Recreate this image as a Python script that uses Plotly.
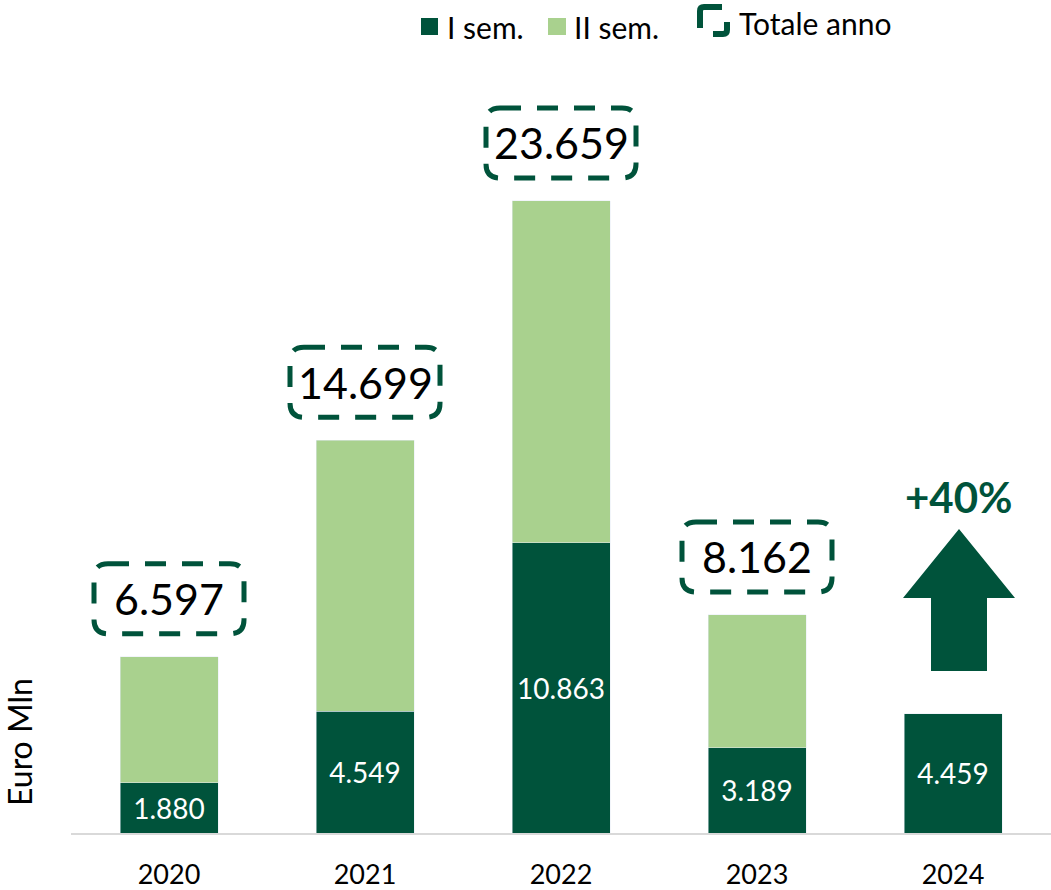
import plotly.graph_objects as go

# Data (Euro Mln)
years = ['2020', '2021', '2022', '2023', '2024']
sem1 = [1880, 4549, 10863, 3189, 4459]
sem2 = [4717, 10150, 12796, 4973, None]
totals = [6597, 14699, 23659, 8162, None]
growth_label = '+40%'

dark = '#00533B'
light = '#A9D18E'
font_family = 'Lato'

# plot area in pixels (for legend placement)
W, H = 1051, 890
ML, MR, MT, MB = 71, 0, 60, 57
PW, PH = W - ML - MR, H - MT - MB


def px(x):
    return (x - ML) / PW


def py(y):
    return (H - MB - y) / PH


def paper_path(points):
    # points: list of (cmd, [x, y, ...]) in pixel coords
    parts = []
    for cmd, coords in points:
        conv = []
        for k in range(0, len(coords), 2):
            conv.append(f'{px(coords[k]):.5f},{py(coords[k + 1]):.5f}')
        parts.append(cmd + ' '.join(conv))
    return ' '.join(parts)


fig = go.Figure()

fig.add_trace(go.Bar(
    x=years, y=sem1, name='I sem.', marker_color=dark,
    texttemplate='%{y:,}', textposition='inside', insidetextanchor='middle',
    constraintext='none',
    textfont=dict(color='white', size=28, family=font_family),
))
fig.add_trace(go.Bar(
    x=years, y=sem2, name='II sem.', marker_color=light,
))

shapes = []
annotations = []

# dashed rounded boxes with yearly totals (x given as category index)
for i, t in enumerate(totals):
    if t is None:
        continue
    x0, x1, y0, y1, r = -75, 75, 23, 93, 14
    path = (f'M{x0 + r},{y1} L{x1 - r},{y1} Q{x1},{y1} {x1},{y1 - r} '
            f'L{x1},{y0 + r} Q{x1},{y0} {x1 - r},{y0} L{x0 + r},{y0} '
            f'Q{x0},{y0} {x0},{y0 + r} L{x0},{y1 - r} Q{x0},{y1} {x0 + r},{y1} Z')
    shapes.append(dict(
        type='path', xref='x', yref='y', xsizemode='pixel', ysizemode='pixel',
        xanchor=i, yanchor=t, path=path,
        line=dict(color=dark, width=5, dash='21px,16px'),
    ))
    annotations.append(dict(
        x=i, y=t, yshift=58, text=f'{t:,}'.replace(',', '.'),
        showarrow=False, font=dict(size=43, color='black', family=font_family),
    ))

# growth arrow on the last year
last = len(years) - 1
arrow = 'M-22,43 L34,43 L34,116 L62,116 L6,185 L-50,116 L-22,116 Z'
shapes.append(dict(
    type='path', xref='x', yref='y', xsizemode='pixel', ysizemode='pixel',
    xanchor=last, yanchor=sem1[last], path=arrow,
    fillcolor=dark, line=dict(width=0),
))
annotations.append(dict(
    x=last, y=sem1[last], yshift=217, xshift=6, text=f'<b>{growth_label}</b>',
    showarrow=False, font=dict(size=42, color=dark, family=font_family),
))

# manual legend
shapes.append(dict(type='rect', xref='paper', yref='paper',
                   x0=px(421), x1=px(438), y0=py(35), y1=py(18),
                   fillcolor=dark, line=dict(width=0)))
shapes.append(dict(type='rect', xref='paper', yref='paper',
                   x0=px(548), x1=px(566), y0=py(35), y1=py(18),
                   fillcolor=light, line=dict(width=0)))
shapes.append(dict(type='path', xref='paper', yref='paper',
                   path=paper_path([('M', [700, 28]), ('L', [700, 11]),
                                    ('Q', [700, 7, 704, 7]), ('L', [722, 7])]),
                   line=dict(color=dark, width=6)))
shapes.append(dict(type='path', xref='paper', yref='paper',
                   path=paper_path([('M', [727, 22]), ('L', [727, 30]),
                                    ('Q', [727, 34, 723, 34]), ('L', [713, 34])]),
                   line=dict(color=dark, width=6)))
for text, x, y in [('I sem.', 445, 27), ('II sem.', 572, 27), ('Totale anno', 737, 23)]:
    annotations.append(dict(
        xref='paper', yref='paper', x=px(x), y=py(y), xanchor='left', yanchor='middle',
        text=text, showarrow=False, font=dict(size=30, color='black', family=font_family),
    ))

# y axis title
annotations.append(dict(
    xref='paper', yref='paper', x=px(19), y=py(742), xanchor='center', yanchor='middle',
    text='Euro Mln', textangle=-90,
    showarrow=False, font=dict(size=32, color='black', family=font_family),
))

fig.update_layout(
    width=W, height=H,
    margin=dict(l=ML, r=MR, t=MT, b=MB, autoexpand=False),
    barmode='stack', bargap=0.5,
    separators=',.',
    showlegend=False,
    plot_bgcolor='white', paper_bgcolor='white',
    font=dict(family=font_family, color='black'),
    shapes=shapes, annotations=annotations,
)
fig.update_xaxes(
    type='category', range=[-0.5, len(years) - 0.5], automargin=False,
    showline=True, linecolor='#D9D9D9', linewidth=2,
    ticks='outside', ticklen=17, tickcolor='rgba(0,0,0,0)',
    tickfont=dict(size=27, color='black', family=font_family),
)
fig.update_yaxes(range=[0, 28937], visible=False)

# remove the default page margin so the figure fills the window exactly
fig.write_html('out.html', config={'displayModeBar': False},
               post_script="document.body.style.margin='0';")
